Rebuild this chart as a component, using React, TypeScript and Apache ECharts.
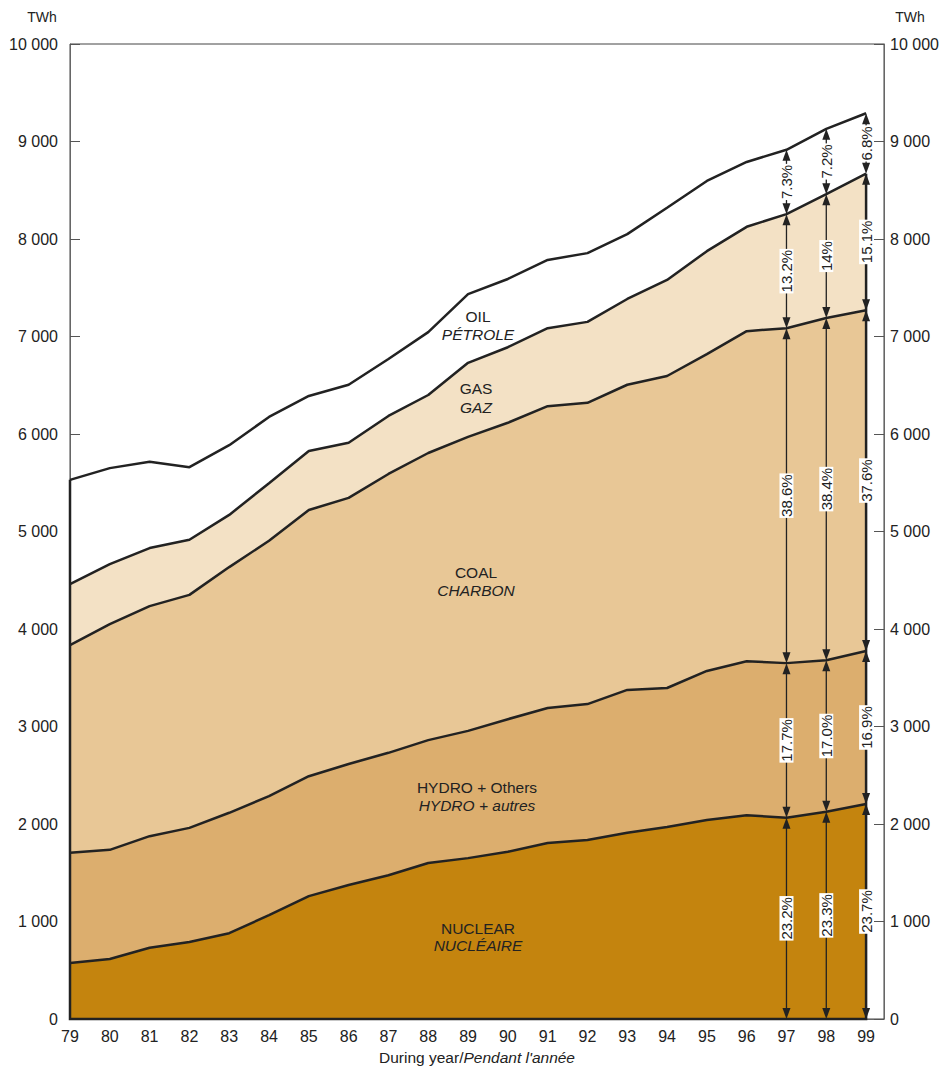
import React, { useEffect, useRef } from "react";
import * as echarts from "echarts";

const years = [79, 80, 81, 82, 83, 84, 85, 86, 87, 88, 89, 90, 91, 92, 93, 94, 95, 96, 97, 98, 99];
const nuclear = [575, 615, 730, 790, 880, 1065, 1260, 1375, 1475, 1600, 1650, 1715, 1805, 1835, 1910, 1970, 2040, 2090, 2065, 2125, 2205];
const hydro = [1130, 1120, 1145, 1170, 1235, 1220, 1230, 1240, 1255, 1260, 1305, 1360, 1385, 1395, 1465, 1425, 1530, 1580, 1585, 1555, 1570];
const coal = [2130, 2315, 2360, 2390, 2520, 2620, 2730, 2730, 2860, 2945, 3015, 3040, 3095, 3090, 3130, 3200, 3250, 3385, 3435, 3510, 3495];
const gas = [625, 615, 595, 565, 535, 590, 605, 565, 595, 595, 760, 775, 800, 830, 880, 985, 1055, 1070, 1170, 1270, 1400];
const oil = [1070, 985, 885, 745, 715, 680, 565, 595, 585, 645, 705, 700, 700, 705, 665, 740, 720, 665, 660, 670, 620];

const annotYears = [97, 98, 99];
const nuclearPct = ["23.2%", "23.3%", "23.7%"];
const hydroPct = ["17.7%", "17.0%", "16.9%"];
const coalPct = ["38.6%", "38.4%", "37.6%"];
const gasPct = ["13.2%", "14%", "15.1%"];
const oilPct = ["7.3%", "7.2%", "6.8%"];

const yTicks = ["0", "1 000", "2 000", "3 000", "4 000", "5 000", "6 000", "7 000", "8 000", "9 000", "10 000"];

const FONT = "'Liberation Sans', Arial, Helvetica, sans-serif";
const INK = "#222";

export default function App() {
  const ref = useRef<HTMLDivElement>(null);

  useEffect(() => {
    if (!ref.current) return;
    const chart = echarts.init(ref.current, undefined, { renderer: "svg" });

    const fuels = [nuclear, hydro, coal, gas, oil];
    const pcts = [nuclearPct, hydroPct, coalPct, gasPct, oilPct];
    const cum = (k: number, i: number) => {
      let s = 0;
      for (let j = 0; j <= k; j++) s += fuels[j][i];
      return s;
    };

    const annots: any[] = [];
    annotYears.forEach((yr, j) => {
      const i = years.indexOf(yr);
      for (let k = 0; k < fuels.length; k++) {
        const lo = k === 0 ? 0 : cum(k - 1, i);
        const hi = cum(k, i);
        annots.push({ value: [yr, lo, hi], label: pcts[k][j] });
      }
    });

    const last = years.length - 1;
    const edgeData = [[years[0], cum(4, 0), years[last], cum(3, last)]];

    const colors = ["#C4840E", "#DCAE6E", "#E8C796", "#F3E1C5", "#FFFFFF"];
    const names = ["Nuclear", "Hydro + Others", "Coal", "Gas", "Oil"];

    // cumulative tops, drawn from the top layer down so that lower layers cover higher ones
    const areaSeries = [4, 3, 2, 1, 0].map((k) => ({
      name: names[k],
      type: "line",
      data: years.map((y, i) => [y, cum(k, i)]),
      symbol: "none",
      lineStyle: { color: INK, width: 2.5 },
      areaStyle: { color: colors[k], opacity: 1, origin: "start" },
      z: 2,
    }));

    const arrowSeries = {
      type: "custom",
      z: 10,
      data: annots.map((a) => a.value),
      renderItem: (params: any, api: any) => {
        const x = api.value(0);
        const lo = api.value(1);
        const hi = api.value(2);
        const p0 = api.coord([x, lo]);
        const p1 = api.coord([x, hi]);
        const label = annots[params.dataIndex].label;
        const aw = 4;
        const ah = 11;
        const cx = p0[0];
        const mid = (p0[1] + p1[1]) / 2;
        return {
          type: "group",
          children: [
            {
              type: "line",
              shape: { x1: cx, y1: p0[1] - ah + 1, x2: cx, y2: p1[1] + ah - 1 },
              style: { stroke: INK, lineWidth: 1.3 },
            },
            {
              type: "polygon",
              shape: { points: [[cx, p0[1]], [cx - aw, p0[1] - ah], [cx + aw, p0[1] - ah]] },
              style: { fill: INK },
            },
            {
              type: "polygon",
              shape: { points: [[cx, p1[1]], [cx - aw, p1[1] + ah], [cx + aw, p1[1] + ah]] },
              style: { fill: INK },
            },
            {
              type: "text",
              x: cx,
              y: mid,
              rotation: Math.PI / 2,
              style: {
                text: label,
                font: `15px ${FONT}`,
                fill: INK,
                align: "center",
                verticalAlign: "middle",
                backgroundColor: "#fff",
                padding: [0, 1, 0, 1],
                lineHeight: 14,
              },
            },
          ],
        };
      },
    };

    const edgeSeries = {
      type: "custom",
      z: 5,
      data: edgeData,
      renderItem: (params: any, api: any) => {
        const a = api.coord([api.value(0), api.value(1)]);
        const b = api.coord([api.value(0), 0]);
        const c = api.coord([api.value(2), 0]);
        const d = api.coord([api.value(2), api.value(3)]);
        return {
          type: "polyline",
          shape: { points: [a, b, c, d] },
          style: { stroke: INK, lineWidth: 2.5, fill: "none" },
        };
      },
    };

    const yAxisCommon = {
      type: "value",
      min: 0,
      max: 10000,
      interval: 1000,
      axisLine: { show: true, lineStyle: { color: "#666", width: 1 } },
      axisTick: { show: true, inside: true, length: 10, lineStyle: { color: "#555", width: 1 } },
      splitLine: { show: false },
      axisLabel: {
        color: INK,
        fontSize: 16,
        fontFamily: FONT,
        formatter: (v: number) => yTicks[Math.round(v / 1000)],
      },
    };

    const txt = (text: string, x: number, y: number, size: number, italic = false) => ({
      type: "text",
      x,
      y,
      z: 20,
      style: {
        text,
        font: `${italic ? "italic " : ""}${size}px ${FONT}`,
        fill: INK,
        align: "center",
        verticalAlign: "middle",
        textAlign: "center",
        textVerticalAlign: "middle",
      },
    });

    chart.setOption({
      animation: false,
      grid: {
        left: 70,
        right: 58,
        top: 44,
        bottom: 51,
        show: true,
        borderColor: "#444",
        borderWidth: 1,
        backgroundColor: "transparent",
      },
      xAxis: {
        type: "value",
        min: 79,
        max: 99.45,
        interval: 1,
        axisLine: { show: true, lineStyle: { color: "#666", width: 1 } },
        axisTick: { show: true, inside: true, length: 10, lineStyle: { color: "#444", width: 1 } },
        splitLine: { show: false },
        axisLabel: {
          color: INK,
          fontSize: 16,
          fontFamily: FONT,
          margin: 9,
          showMaxLabel: false,
          formatter: (v: number) => (Number.isInteger(v) ? String(v) : ""),
        },
      },
      yAxis: [
        { ...yAxisCommon, position: "left", axisLabel: { ...yAxisCommon.axisLabel, margin: 12 } },
        { ...yAxisCommon, position: "right", axisLabel: { ...yAxisCommon.axisLabel, margin: 6 } },
      ],
      series: [...areaSeries, edgeSeries, arrowSeries],
      graphic: [
        txt("TWh", 42, 17, 14),
        txt("TWh", 910, 17, 14),
        {
          type: "text",
          x: 477,
          y: 1057,
          style: {
            text: "{a|During year/}{b|Pendant l'année}",
            rich: {
              a: { fontSize: 15.5, fontFamily: FONT, fill: INK },
              b: { fontSize: 15.5, fontFamily: FONT, fill: INK, fontStyle: "italic" },
            },
            align: "center",
            verticalAlign: "middle",
            textAlign: "center",
            textVerticalAlign: "middle",
          },
        },
        txt("OIL", 478, 316, 15.5),
        txt("PÉTROLE", 478, 334, 15.5, true),
        txt("GAS", 476, 388, 15.5),
        txt("GAZ", 476, 407, 15.5, true),
        txt("COAL", 476, 572, 15.5),
        txt("CHARBON", 476, 590, 15.5, true),
        txt("HYDRO + Others", 477, 787, 15.5),
        txt("HYDRO + autres", 477, 805, 15.5, true),
        txt("NUCLEAR", 478, 928, 15.5),
        txt("NUCLÉAIRE", 478, 945, 15.5, true),
      ],
    });

    return () => chart.dispose();
  }, []);

  return <div ref={ref} style={{ position: "absolute", left: 0, top: 0, width: 942, height: 1070 }} />;
}
